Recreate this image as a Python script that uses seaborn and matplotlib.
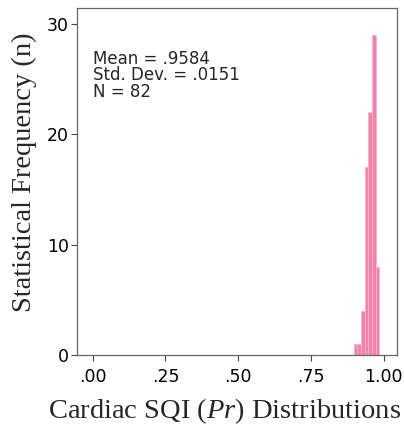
import matplotlib
matplotlib.use("Agg")
import matplotlib.pyplot as plt
import seaborn as sns

# Data
bin_edges = [0.8975, 0.91, 0.9225, 0.935, 0.9475, 0.96, 0.9725, 0.985]
counts = [1, 1, 4, 17, 22, 29, 8]
x_ticks = [0.0, 0.25, 0.5, 0.75, 1.0]
x_tick_labels = [".00", ".25", ".50", ".75", "1.00"]
y_ticks = [0, 10, 20, 30]
stats_lines = ["Mean = .9584", "Std. Dev. = .0151", "N = 82"]
x_label = "Cardiac SQI ($\\mathit{Pr}$) Distributions"
y_label = "Statistical Frequency (n)"

sns.set_style("ticks")
plt.rcParams["font.family"] = ["DejaVu Sans"]
plt.rcParams["mathtext.fontset"] = "custom"
plt.rcParams["mathtext.it"] = "Liberation Serif:italic"
plt.rcParams["mathtext.rm"] = "Liberation Serif"

fig = plt.figure(figsize=(4.04, 4.25), dpi=100)
ax = fig.add_axes([0.1906, 0.1647, 0.7921, 0.8163])

centers = [(bin_edges[i] + bin_edges[i + 1]) / 2 for i in range(len(counts))]
sns.histplot(x=centers, weights=counts, bins=bin_edges, ax=ax,
             color="#F083AB", alpha=1.0, edgecolor="#F8B4CC", linewidth=0.6)

ax.set_xlim(-0.054, 1.046)
ax.set_ylim(0, 31.4)
ax.set_xticks(x_ticks)
ax.set_xticklabels(x_tick_labels)
ax.set_yticks(y_ticks)
ax.tick_params(axis="both", labelsize=12.5, length=4, width=0.8,
               color="#444444", labelcolor="black", pad=2)
ax.tick_params(axis="x", pad=5)
for s in ax.spines.values():
    s.set_visible(True)
    s.set_color("#666666")
    s.set_linewidth(0.9)

ax.set_xlabel(x_label, fontsize=20.5, family="Liberation Serif")
ax.set_ylabel(y_label, fontsize=20.5, family="Liberation Serif")
ax.xaxis.set_label_coords(0.4625, -0.118)
ax.yaxis.set_label_coords(-0.125, 0.527)

ax.text((92.7 - 77) / 320.0, 1.0 - (50 - 8) / 347.0, "\n".join(stats_lines),
        transform=ax.transAxes, ha="left", va="top", fontsize=12,
        linespacing=0.88)

fig.savefig("out.png", dpi=100)
